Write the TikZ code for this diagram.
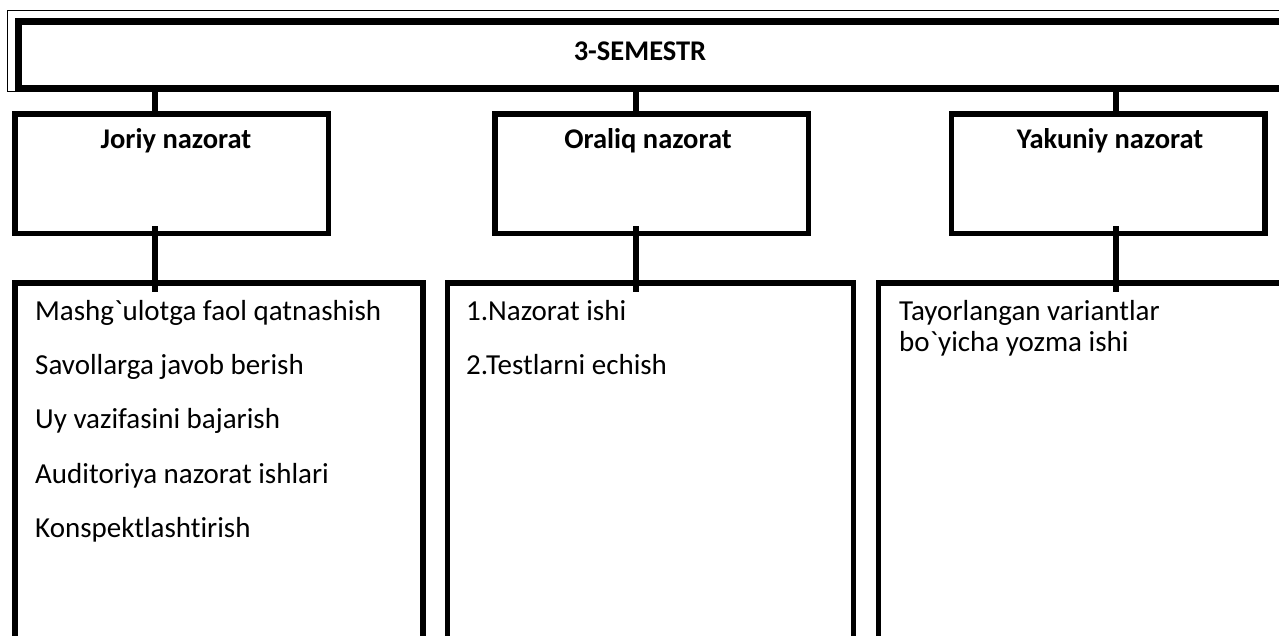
\documentclass[tikz,border=0pt]{standalone}
\usepackage{fontspec}
\setmainfont{Carlito}[Ligatures={TeX,NoCommon}]
\usetikzlibrary{positioning}

\begin{document}
\begin{tikzpicture}[
  x=1pt, y=-1pt,
  line cap=butt, line join=miter,
  frame/.style = {draw=black, line width=5.5pt, rectangle, inner sep=0pt,
                  anchor=north west},
  head/.style  = {font=\fontsize{28.5}{34}\selectfont\bfseries},
  link/.style  = {draw=black, line width=6pt},
  item/.style  = {anchor=base west, inner sep=0pt,
                  font=\fontsize{29}{34}\selectfont}
]
\useasboundingbox (0,0) rectangle (1279,635);
\clip (0,0) rectangle (1279,635);

% semestr
\node[frame, line width=1.3pt, minimum width=1300pt, minimum height=81pt]
  (outer) at (6.5,10) {};
\node[frame, line width=7pt, minimum width=1270pt, minimum height=67pt]
  (sem) at (15,17.5) {};
\node[head] (semt) at (640,51) {3-SEMESTR};

% nazorat turlari
\node[frame, minimum width=313.5pt, minimum height=119.5pt] (joriy) at (12,111) {};
\node[frame, minimum width=313.5pt, minimum height=119.5pt] (oraliq) at (492,111) {};
\node[frame, minimum width=313.5pt, minimum height=119.5pt] (yakuniy) at (948.5,111) {};
\node[head] (joriyt) at (176,141) {Joriy nazorat};
\node[head] (oraliqt) at (648,141) {Oraliq nazorat};
\node[head] (yakuniyt) at (1110,141) {Yakuniy nazorat};

% ish turlari
\node[frame, minimum width=408pt, minimum height=400pt] (jlist) at (12,280) {};
\node[frame, minimum width=406pt, minimum height=400pt] (olist) at (444.5,280) {};
\node[frame, minimum width=420pt, minimum height=400pt] (ylist) at (875.5,280) {};

% ulanishlar
\coordinate (jx) at (154.5,0);
\coordinate (ox) at (636,0);
\coordinate (yx) at (1116,0);
\draw[link] (sem.south -| jx) -- (joriy.north -| jx);
\draw[link] (sem.south -| ox) -- (oraliq.north -| ox);
\draw[link] (sem.south -| yx) -- (yakuniy.north -| yx);
\draw[link] ([yshift=10pt]joriy.south -| jx) -- ([yshift=-12pt]jlist.north -| jx);
\draw[link] ([yshift=10pt]oraliq.south -| ox) -- ([yshift=-12pt]olist.north -| ox);
\draw[link] ([yshift=10pt]yakuniy.south -| yx) -- ([yshift=-12pt]ylist.north -| yx);

% matnlar
\node[item] (j1) at (35,320) {Mashg\textasciigrave ulotga faol qatnashish};
\node[item] (j2) at (35,374) {Savollarga javob berish};
\node[item] (j3) at (35,428) {Uy vazifasini bajarish};
\node[item] (j4) at (35,483) {Auditoriya nazorat ishlari};
\node[item] (j5) at (35,537) {Konspektlashtirish};
\node[item] (o1) at (466,320) {1.Nazorat ishi};
\node[item] (o2) at (466,374) {2.Testlarni echish};
\node[item] (y1) at (899,320) {Tayorlangan variantlar};
\node[item] (y2) at (899,351) {bo\textasciigrave yicha yozma ishi};
\end{tikzpicture}
\end{document}
